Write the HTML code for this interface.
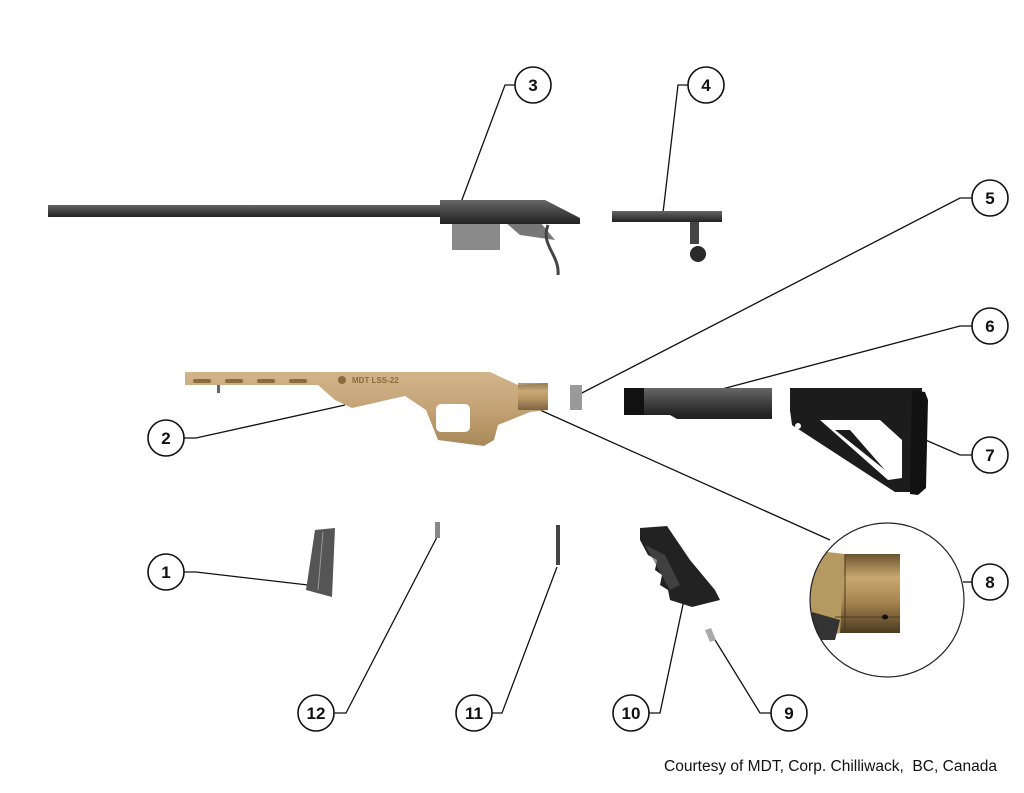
<!DOCTYPE html>
<html><head><meta charset="utf-8"><style>
html,body{margin:0;padding:0;background:#fff;}
svg{display:block}
text{font-family:"Liberation Sans",sans-serif}
</style></head><body>
<svg width="1024" height="793" viewBox="0 0 1024 793" xmlns="http://www.w3.org/2000/svg">
<defs>
<linearGradient id="tan" x1="0" y1="0" x2="0" y2="1">
<stop offset="0" stop-color="#d2b58a"/><stop offset="0.5" stop-color="#c4a276"/><stop offset="1" stop-color="#a88858"/></linearGradient>
<linearGradient id="brass" x1="0" y1="0" x2="0" y2="1">
<stop offset="0" stop-color="#6a5530"/><stop offset="0.3" stop-color="#c9a86e"/><stop offset="0.6" stop-color="#a88550"/><stop offset="1" stop-color="#4a3a20"/></linearGradient>
<linearGradient id="steel" x1="0" y1="0" x2="0" y2="1">
<stop offset="0" stop-color="#666"/><stop offset="0.4" stop-color="#4a4a4a"/><stop offset="1" stop-color="#222"/></linearGradient>
<clipPath id="cc"><circle cx="887" cy="600" r="77"/></clipPath>
</defs>

<g stroke="#111" stroke-width="1.3" fill="none">
<polyline points="515,85 505,85 460,205"/>
<polyline points="688,85 678,85 663,213"/>
<polyline points="972,198 960,198 578,395"/>
<polyline points="972,326 960,326 707,393"/>
<polyline points="972,455 960,455 845,405"/>
<polyline points="972,582 963,582"/>
<line x1="540" y1="410" x2="830" y2="540"/>
<polyline points="184,438 196,438 345,405"/>
<polyline points="184,572 196,572 308,585"/>
<polyline points="334,713 346,713 437,537"/>
<polyline points="492,713 502,713 557,567"/>
<polyline points="649,713 660,713 685,595"/>
<polyline points="771,713 760,713 712,635"/>
</g>

<rect x="48" y="205" width="395" height="12" fill="url(#steel)"/>
<rect x="452" y="222" width="48" height="28" fill="#8a8a8a"/>
<path d="M505,222 L540,222 L555,240 L520,235 Z" fill="#777"/>
<path d="M548,225 C540,245 560,255 558,275" stroke="#444" stroke-width="3" fill="none"/>
<path d="M440,200 L545,200 L580,218 L580,224 L440,224 Z" fill="url(#steel)"/>
<rect x="612" y="211" width="110" height="11" fill="url(#steel)"/>
<rect x="690" y="222" width="9" height="22" fill="#444"/>
<circle cx="698" cy="254" r="8" fill="#2a2a2a"/>

<path d="M185,372 L490,372 L518,385 L548,383 L548,410 L530,412 L498,425 L494,440 L484,446 L438,440 L426,410 L405,396 L352,408 L335,400 L318,385 L185,385 Z" fill="url(#tan)"/>
<rect x="436" y="404" width="34" height="28" rx="5" fill="#fff"/>
<g fill="#8a6a40"><rect x="193" y="379" width="18" height="4" rx="2"/><rect x="225" y="379" width="18" height="4" rx="2"/><rect x="257" y="379" width="18" height="4" rx="2"/><rect x="289" y="379" width="18" height="4" rx="2"/></g>
<rect x="217" y="385" width="3" height="8" fill="#666"/>
<circle cx="342" cy="380" r="4" fill="#8a6a40"/>
<text x="352" y="383" font-size="8" font-weight="bold" fill="#8a6a40">MDT LSS-22</text>
<rect x="518" y="383" width="30" height="27" fill="url(#brass)" opacity="0.6"/>

<rect x="570" y="385" width="12" height="25" fill="#9a9a9a"/>
<rect x="624" y="388" width="148" height="27" fill="url(#steel)"/>
<rect x="624" y="388" width="20" height="27" fill="#111"/>
<path d="M670,415 L772,415 L772,419 L677,419 Z" fill="#222"/>

<!-- stock 7 -->
<rect x="790" y="388" width="132" height="24" fill="#1c1c1c"/>
<path d="M790,410 L800,412 L912,412 L912,492 L895,492 L792,425 Z" fill="#1c1c1c"/>
<path d="M820,420 L880,420 L902,440 L902,478 L888,480 Z" fill="#fff"/>
<path d="M835,430 L850,430 L885,470 Z" fill="#1c1c1c"/>
<path d="M912,390 L925,392 L928,400 L926,488 L918,495 L910,494 Z" fill="#111"/>
<circle cx="798" cy="426" r="3" fill="#fff"/>

<path d="M315,530 L335,528 L332,597 L306,590 Z" fill="#555"/>
<line x1="323" y1="532" x2="318" y2="590" stroke="#999" stroke-width="1"/>
<rect x="435" y="522" width="5" height="16" fill="#888"/>
<rect x="556" y="525" width="4" height="40" fill="#444"/>
<path d="M640,528 L667,526 L690,560 L715,590 L720,600 L692,607 L670,600 L668,590 L660,585 L662,575 L655,570 L657,560 L648,555 L640,540 Z" fill="#222"/>
<path d="M645,545 L665,555 L680,585 L670,590 Z" fill="#555" opacity="0.6"/>
<path d="M705,630 L711,628 L716,640 L710,642 Z" fill="#aaa"/>

<g clip-path="url(#cc)">
<rect x="835" y="554" width="65" height="79" fill="url(#brass)"/>
<path d="M810,550 L845,554 L840,633 L810,640 Z" fill="#b49a60"/>
<path d="M812,612 L840,620 L835,640 L812,640 Z" fill="#333"/>
<line x1="845" y1="554" x2="845" y2="633" stroke="#4a3a20" stroke-width="1"/>
<line x1="835" y1="617" x2="900" y2="617" stroke="#4a3a20" stroke-width="1"/>
<ellipse cx="885" cy="617" rx="3" ry="2.5" fill="#111"/>
</g>
<circle cx="887" cy="600" r="77" fill="none" stroke="#222" stroke-width="1.2"/>

<g fill="#fff" stroke="#111" stroke-width="1.6">
<circle cx="533" cy="85" r="18"/><circle cx="706" cy="85" r="18"/><circle cx="990" cy="198" r="18"/>
<circle cx="990" cy="326" r="18"/><circle cx="990" cy="455" r="18"/><circle cx="990" cy="582" r="18"/>
<circle cx="166" cy="438" r="18"/><circle cx="166" cy="572" r="18"/><circle cx="316" cy="713" r="18"/>
<circle cx="474" cy="713" r="18"/><circle cx="631" cy="713" r="18"/><circle cx="789" cy="713" r="18"/>
</g>
<g font-size="17" font-weight="bold" fill="#111" text-anchor="middle">
<text x="533" y="91">3</text><text x="706" y="91">4</text><text x="990" y="204">5</text>
<text x="990" y="332">6</text><text x="990" y="461">7</text><text x="990" y="588">8</text>
<text x="166" y="444">2</text><text x="166" y="578">1</text><text x="316" y="719">12</text>
<text x="474" y="719">11</text><text x="631" y="719">10</text><text x="789" y="719">9</text>
</g>
<text x="664" y="771" font-size="15.4" fill="#111" xml:space="preserve" textLength="333" lengthAdjust="spacingAndGlyphs">Courtesy of MDT, Corp. Chilliwack,  BC, Canada</text>
</svg>
</body></html>
